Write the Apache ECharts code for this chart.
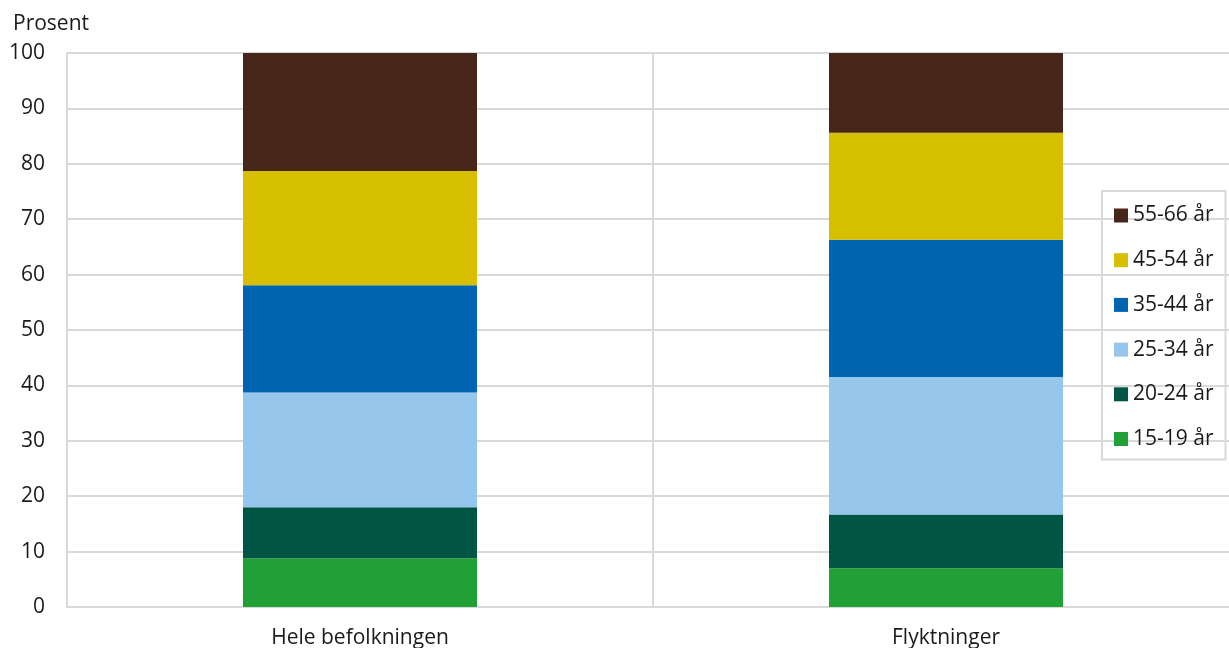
<!DOCTYPE html>
<html><head><meta charset="utf-8">
<script src="https://cdn.jsdelivr.net/npm/echarts@6/dist/echarts.min.js"></script>
<style>html,body{margin:0;padding:0;background:#fff}#c{width:1229px;height:648px}</style>
</head><body><div id="c"></div>
<script>
const categories = ['Hele befolkningen', 'Flyktninger'];
const seriesNames = ['15-19 år', '20-24 år', '25-34 år', '35-44 år', '45-54 år', '55-66 år'];
const v15_19 = [8.8, 7.0];
const v20_24 = [9.2, 9.7];
const v25_34 = [20.7, 24.8];
const v35_44 = [19.4, 24.8];
const v45_54 = [20.6, 19.3];
const v55_66 = [21.3, 14.4];
const colors = ['#21a038', '#005544', '#96c6ec', '#0064b1', '#d6bf00', '#47261a'];
const values = [v15_19, v20_24, v25_34, v35_44, v45_54, v55_66];
const font = '"Open Sans", "Noto Sans", sans-serif';
const gridColor = '#d9d9d9';

const chart = echarts.init(document.getElementById('c'));
chart.setOption({
  animation: false,
  textStyle: { fontFamily: font },
  title: { text: 'Prosent', left: 8, top: 9, textStyle: { fontFamily: font, fontSize: 21, fontWeight: 'normal', color: '#1a1a1a' } },
  grid: { left: 67, width: 1172, top: 53, bottom: 41, containLabel: false, outerBoundsMode: 'none' },
  legend: {
    orient: 'vertical', left: 1102, top: 191,
    data: seriesNames.slice().reverse(),
    itemWidth: 14, itemHeight: 14, itemGap: 23.7,
    padding: [14, 12, 10, 12],
    borderColor: gridColor, borderWidth: 2,
    icon: 'rect',
    textStyle: { fontFamily: font, fontSize: 21, lineHeight: 20, color: '#1a1a1a' }
  },
  xAxis: {
    type: 'category', data: categories,
    axisLine: { show: true, lineStyle: { color: gridColor, width: 2 } },
    axisTick: { show: false },
    splitLine: { show: true, lineStyle: { color: gridColor, width: 2 } },
    axisLabel: { fontFamily: font, fontSize: 21, color: '#1a1a1a', margin: 21 }
  },
  yAxis: {
    type: 'value', min: 0, max: 100, interval: 10,
    axisLine: { show: true, lineStyle: { color: gridColor, width: 2 } },
    axisTick: { show: false },
    splitLine: { lineStyle: { color: gridColor, width: 2 } },
    axisLabel: { fontFamily: font, fontSize: 21, color: '#1a1a1a', margin: 22 }
  },
  series: seriesNames.map((n, i) => ({
    name: n, type: 'bar', stack: 'a', barWidth: 234,
    itemStyle: { color: colors[i] },
    data: values[i]
  }))
});
</script></body></html>
